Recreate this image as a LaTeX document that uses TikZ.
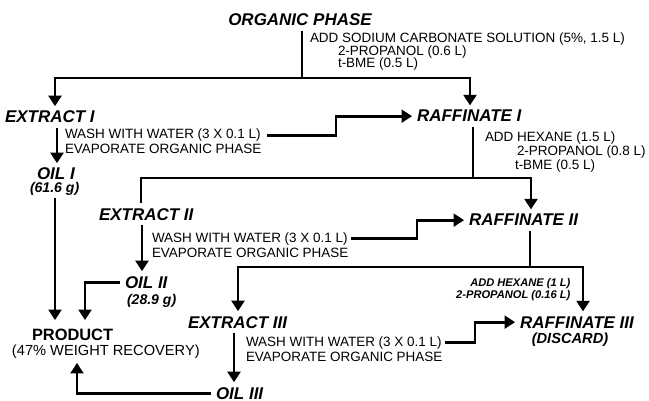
\documentclass[tikz,border=0pt]{standalone}
\usepackage{fontspec}
\setmainfont{Liberation Sans}
\usetikzlibrary{arrows.meta, positioning, calc}

\begin{document}
\begin{tikzpicture}[x=0.03cm, y=-0.03cm, >={Triangle[width=11pt, length=9pt]}]
        \tikzset{stage/.style={font=\fontsize{14.5}{16}\selectfont\bfseries\itshape, inner sep=4pt, anchor=text},
                 note/.style={font=\fontsize{11.5}{13}\selectfont, inner sep=0pt, anchor=text},
                 amount/.style={font=\fontsize{12}{14}\selectfont\bfseries\itshape, inner sep=2pt, anchor=text},
                 addnote/.style={font=\fontsize{9.5}{11}\selectfont\bfseries\itshape, inner sep=2pt, anchor=base east},
                 flow/.style={line width=2.4pt}}
        \useasboundingbox (0,0) rectangle (649,401);

        % first extraction
        \node[stage, anchor=base] (org) at (300,26) {ORGANIC PHASE};
        \node[note] (add1) at (310,43) {ADD SODIUM CARBONATE SOLUTION (5\%, 1.5 L)};
        \node[note] (prop1) at (338,56) {2-PROPANOL (0.6 L)};
        \node[note] (bme1) at (338,68) {t-BME (0.5 L)};
        \node[stage] (ext1) at (5,123) {EXTRACT I};
        \node[stage] (raf1) at (417,122) {RAFFINATE I};
        \node[note] (wash1) at (65,139) {WASH WITH WATER (3 X 0.1 L)};
        \node[note] (evap1) at (65,154) {EVAPORATE ORGANIC PHASE};
        \node[stage] (oil1) at (37,180) {OIL I};
        \node[amount] (g1) at (30,193) {(61.6 g)};

        % second extraction
        \node[note] (hex1) at (485,142) {ADD HEXANE (1.5 L)};
        \node[note] (prop2) at (517,156) {2-PROPANOL (0.8 L)};
        \node[note] (bme2) at (515,170) {t-BME (0.5 L)};
        \node[stage] (ext2) at (99,220) {EXTRACT II};
        \node[stage] (raf2) at (469,226) {RAFFINATE II};
        \node[note] (wash2) at (152,242) {WASH WITH WATER (3 X 0.1 L)};
        \node[note] (evap2) at (152,257) {EVAPORATE ORGANIC PHASE};
        \node[stage] (oil2) at (125,288) {OIL II};
        \node[amount] (g2) at (127,304) {(28.9 g)};

        % third extraction
        \node[addnote] (hex3) at (573,286) {ADD HEXANE (1 L)};
        \node[addnote] (prop3) at (573,298) {2-PROPANOL (0.16 L)};
        \node[stage] (ext3) at (188,328) {EXTRACT III};
        \node[stage] (raf3) at (520,328) {RAFFINATE III};
        \node[amount, font=\fontsize{12.5}{14}\selectfont\bfseries\itshape, anchor=base] (disc) at (570,343) {(DISCARD)};
        \node[note] (wash3) at (246,346) {WASH WITH WATER (3 X 0.1 L)};
        \node[note] (evap3) at (246,361) {EVAPORATE ORGANIC PHASE};
        \node[stage] (oil3) at (216,399) {OIL III};

        % product
        \node[stage, font=\fontsize{14}{16}\selectfont\bfseries, inner sep=7pt] (prod) at (32,340) {PRODUCT};
        \node[note, font=\fontsize{12.5}{14}\selectfont, inner sep=4pt] (rec) at (12,355) {(47\% WEIGHT RECOVERY)};

        % junctions and columns
        \coordinate (j0) at (302,78);
        \coordinate (a1) at (55,78);
        \coordinate (b1) at (470,78);
        \coordinate (j1) at (473,178);
        \coordinate (a2) at (141,178);
        \coordinate (b2) at (531,178);
        \coordinate (j2) at (530,267);
        \coordinate (a3) at (238,267);
        \coordinate (b3) at (583,267);
        \coordinate (c1) at (57,0);
        \coordinate (c2) at (142,0);
        \coordinate (c3) at (234,0);
        \coordinate (d1) at (55,0);
        \coordinate (d2) at (85,0);
        \coordinate (d3) at (77,0);
        \coordinate (s1) at (336,0);
        \coordinate (s2) at (417,0);
        \coordinate (s3) at (475,0);

        \draw[flow] (org.south -| j0) -- (j0);
        \draw[flow, ->] (j0) -- (a1) -- (a1 |- ext1.north);
        \draw[flow, ->] (j0) -- (b1) -- (b1 |- raf1.north);
        \draw[flow, ->] (c1 |- ext1.south) -- (c1 |- oil1.north);
        \draw[flow, ->] ([xshift=5pt]wash1.east) -| (s1 |- raf1.west) -- (raf1.west);

        \draw[flow] (raf1.south -| j1) -- (j1);
        \draw[flow] (j1) -- (a2) -- (a2 |- ext2.north);
        \draw[flow, ->] (j1) -- (b2) -- (b2 |- raf2.north);
        \draw[flow, ->] (c2 |- ext2.south) -- (c2 |- oil2.north);
        \draw[flow, ->] ([xshift=3pt]wash2.east) -| (s2 |- raf2.west) -- (raf2.west);

        \draw[flow] (raf2.south -| j2) -- (j2);
        \draw[flow, ->] (j2) -- (a3) -- (a3 |- ext3.north);
        \draw[flow, ->] (j2) -- (b3) -- (b3 |- raf3.north);
        \draw[flow, ->] (c3 |- ext3.south) -- (c3 |- oil3.north);
        \draw[flow, ->] ([xshift=3pt]wash3.east) -| (s3 |- raf3.west) -- (raf3.west);

        \draw[flow, ->] (d1 |- g1.south) -- (d1 |- prod.north);
        \draw[flow, ->] (oil2.west) -| (d2 |- prod.north);
        \draw[flow, ->] (oil3.west) -| (d3 |- rec.south);
    \end{tikzpicture}
\end{document}
